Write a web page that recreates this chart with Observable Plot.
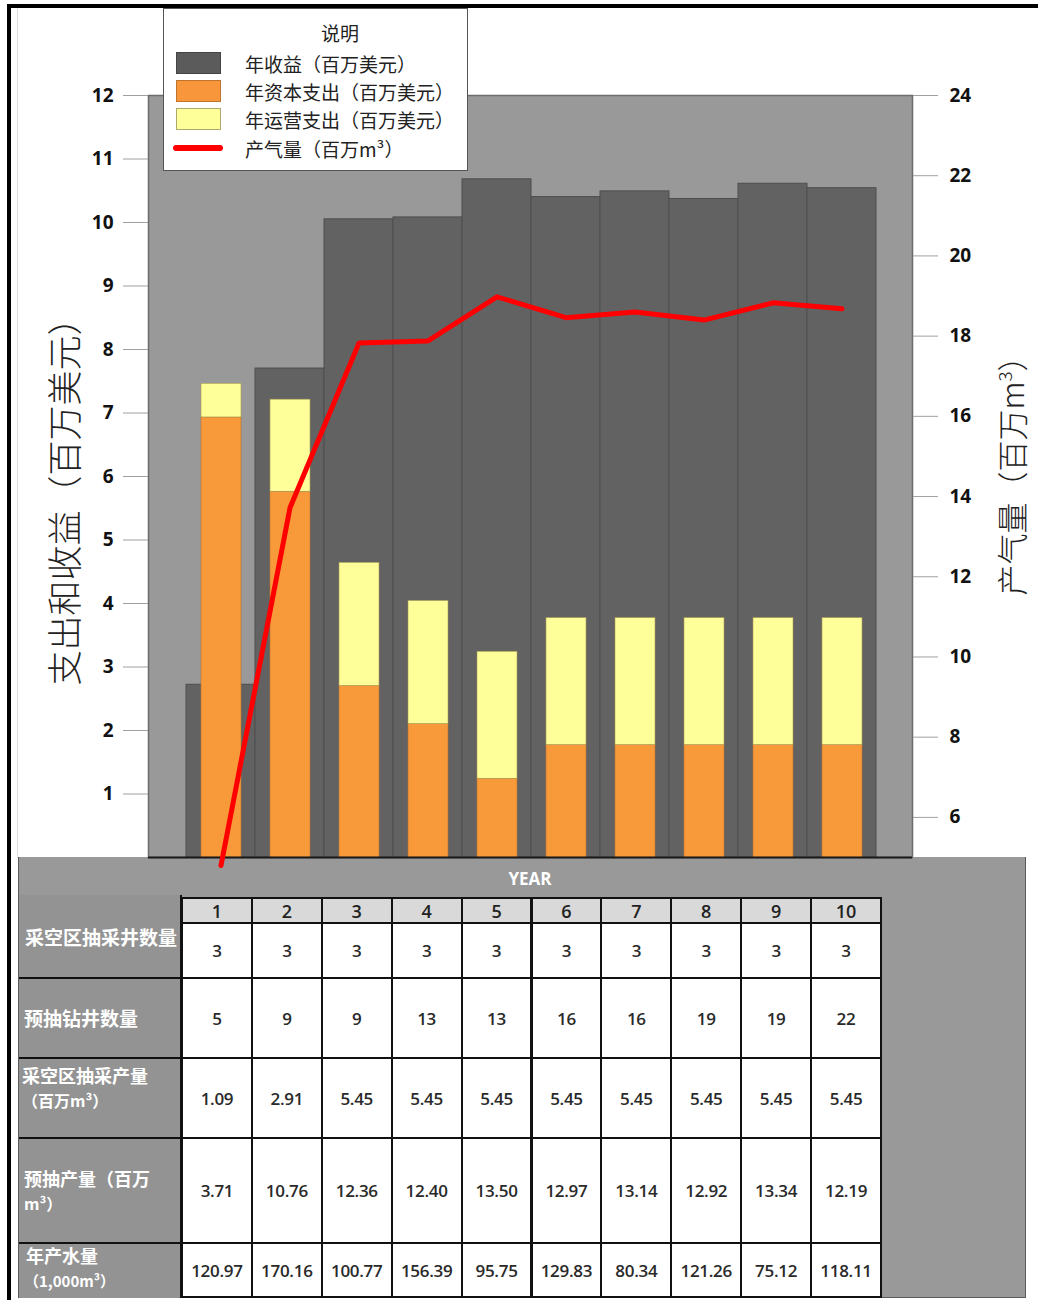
<!DOCTYPE html>
<html>
<head>
<meta charset="utf-8">
<script src="https://cdn.jsdelivr.net/npm/d3@7"></script>
<script src="https://cdn.jsdelivr.net/npm/@observablehq/plot@0.6"></script>
<style>
  html, body { margin: 0; padding: 0; background: #fff; }
  #root { position: relative; width: 1038px; height: 1300px; overflow: hidden; font-family: "Noto Sans CJK SC", "Noto Sans", sans-serif; }
  .abs { position: absolute; box-sizing: border-box; }
  .num { font-family: "Open Sans", Lato, sans-serif; }
</style>
</head>
<body>
<div id="root"></div>
<script>
// ---------- data ----------
const years = [1, 2, 3, 4, 5, 6, 7, 8, 9, 10];
const revenue = [2.72, 7.70, 10.05, 10.08, 10.68, 10.40, 10.49, 10.37, 10.61, 10.54];
const capex = [6.93, 5.76, 2.70, 2.10, 1.24, 1.77, 1.77, 1.77, 1.77, 1.77];
const opex = [0.53, 1.45, 1.94, 1.94, 2.00, 2.00, 2.00, 2.00, 2.00, 2.00];
const gas = [4.80, 13.72, 17.83, 17.88, 18.98, 18.46, 18.60, 18.40, 18.83, 18.68];
const leftTicks = [1, 2, 3, 4, 5, 6, 7, 8, 9, 10, 11, 12];
const rightTicks = [6, 8, 10, 12, 14, 16, 18, 20, 22, 24];
const leftDomain = [0, 12];
const rightDomain = [5, 24];

const legendTitle = "说明";
const legendItems = ["年收益（百万美元）", "年资本支出（百万美元）", "年运营支出（百万美元）", "产气量（百万m³）"];
const leftLabel = "支出和收益（百万美元）";
const rightLabel = "产气量（百万m<sup style='font-size:0.6em'>3</sup>）";

const tableHeader = "YEAR";
const rowLabels = [
  ["采空区抽采井数量"],
  ["预抽钻井数量"],
  ["采空区抽采产量", "（百万m³）"],
  ["预抽产量（百万", "m³）"],
  ["年产水量", "（1,000m³）"]
];
const goafWells = ["3", "3", "3", "3", "3", "3", "3", "3", "3", "3"];
const preWells = ["5", "9", "9", "13", "13", "16", "16", "19", "19", "22"];
const goafProd = ["1.09", "2.91", "5.45", "5.45", "5.45", "5.45", "5.45", "5.45", "5.45", "5.45"];
const preProd = ["3.71", "10.76", "12.36", "12.40", "13.50", "12.97", "13.14", "12.92", "13.34", "12.19"];
const water = ["120.97", "170.16", "100.77", "156.39", "95.75", "129.83", "80.34", "121.26", "75.12", "118.11"];
const tableRows = [goafWells, preWells, goafProd, preProd, water];

// ---------- helpers ----------
const root = document.getElementById("root");
function el(tag, css, html) {
  const e = document.createElement(tag);
  e.className = "abs";
  e.style.cssText = css;
  if (html != null) e.innerHTML = html;
  root.appendChild(e);
  return e;
}

// map right-axis values into left-axis units
const toLeft = v => (v - rightDomain[0]) * (leftDomain[1] - leftDomain[0]) / (rightDomain[1] - rightDomain[0]);
const fromLeft = u => u * (rightDomain[1] - rightDomain[0]) / (leftDomain[1] - leftDomain[0]) + rightDomain[0];

const data = years.map((y, i) => ({year: y, revenue: revenue[i], capex: capex[i], opex: opex[i], gas: gas[i]}));

// ---------- frame lines ----------
el("div", "left:7px;top:4px;width:4px;height:1296px;background:#000;");
el("div", "left:7px;top:4px;width:1031px;height:4px;background:#000;");
el("div", "left:17px;top:8px;width:1px;height:850px;background:#ddd;");

// ---------- table background (under the chart so the line can overlap it) ----------
el("div", "left:18px;top:857px;width:1008px;height:441px;background:#999999;border:1px solid #5a5a5a;border-top:none;");

// ---------- chart ----------
const chart = Plot.plot({
  width: 1038,
  height: 870,
  marginTop: 95,
  marginBottom: 13,
  marginLeft: 148,
  marginRight: 126,
  style: {fontFamily: "'Open Sans', Lato, sans-serif", background: "transparent", overflow: "visible"},
  x: {type: "band", domain: years, padding: 0, insetLeft: 35, insetRight: 34, axis: null},
  y: {domain: leftDomain, axis: null},
  marks: [
    Plot.frame({fill: "#999999", stroke: "#6b6b6b", strokeWidth: 1.5}),
    Plot.barY(data, {x: "year", y: "revenue", fill: "#626262", stroke: "#4e4e4e", strokeWidth: 1}),
    Plot.barY(data, {x: "year", y1: 0, y2: "capex", fill: "#f99a3a", stroke: "#b9732c", strokeWidth: 0.6, insetLeft: 15, insetRight: 14}),
    Plot.barY(data, {x: "year", y1: "capex", y2: d => d.capex + d.opex, fill: "#ffff99", stroke: "#a89a55", strokeWidth: 0.6, insetLeft: 15, insetRight: 14}),
    Plot.ruleY([0], {stroke: "#1a1a1a", strokeWidth: 2}),
    Plot.line(data, {x: "year", y: d => toLeft(d.gas), stroke: "#ff0000", strokeWidth: 5, strokeLinecap: "round"}),
    Plot.axisY({anchor: "left", ticks: leftTicks, tickSize: 25, tickPadding: 10, fontSize: 19, fontWeight: "bold", stroke: "#a0a0a0", fill: "#111", label: null}),
    Plot.axisY({anchor: "right", ticks: rightTicks.map(toLeft), tickFormat: d => String(Math.round(fromLeft(d))), tickSize: 25, tickPadding: 12, fontSize: 19, fontWeight: "bold", stroke: "#a0a0a0", fill: "#111", label: null})
  ]
});
chart.style.position = "absolute";
chart.style.left = "0px";
chart.style.top = "0px";
root.appendChild(chart);

// ---------- axis titles ----------
el("div", "left:62px;top:493px;white-space:nowrap;font-size:35px;color:#222;font-weight:300;transform:translate(-50%,-50%) rotate(-90deg);", leftLabel);
el("div", "left:1010px;top:468px;white-space:nowrap;font-size:31px;color:#222;font-weight:300;transform:translate(-50%,-50%) rotate(-90deg);", rightLabel);

// ---------- legend ----------
el("div", "left:163px;top:8px;width:305px;height:163px;background:#fff;border:1.5px solid #555;");
el("div", "left:340px;top:32px;font-size:19px;color:#222;transform:translate(-50%,-50%);white-space:nowrap;", legendTitle);
const swatchCss = [
  "background:#5b5b5b;border:1px solid #444;",
  "background:#f7963b;border:1px solid #c0742e;",
  "background:#ffff99;border:1px solid #b0a870;"
];
const legendY = [63, 91, 119, 148];
swatchCss.forEach((c, i) => el("div", `left:176px;top:${legendY[i] - 11}px;width:45px;height:22px;${c}`));
el("div", `left:173px;top:${legendY[3] - 3}px;width:50px;height:6px;border-radius:3px;background:#ff0000;`);
legendItems.forEach((t, i) => el("div", `left:245px;top:${legendY[i]}px;font-size:19px;color:#222;transform:translateY(-50%);white-space:nowrap;line-height:1;`, t));

// ---------- table ----------
el("div", "left:530px;top:878px;font-size:17px;font-weight:bold;color:#fff;transform:translate(-50%,-50%);font-family:'Open Sans',Lato,sans-serif;", tableHeader);

const colX0 = 181, colW = 69.9;
const headTop = 897, headH = 25;
const rowH = [55, 80, 80, 105, 54];
const rowTop = [];
{ let y = headTop + headH; rowH.forEach(h => { rowTop.push(y); y += h; }); }

// header row
years.forEach((yr, j) => {
  el("div", `left:${colX0 + j * colW}px;top:${headTop}px;width:${colW + 2}px;height:${headH + 2}px;background:#d9d9d9;border:2px solid #111;display:flex;align-items:center;justify-content:center;font-size:18px;font-weight:600;color:#222;`, `<span class="num">${yr}</span>`);
});
// data cells
tableRows.forEach((row, r) => {
  row.forEach((v, j) => {
    el("div", `left:${colX0 + j * colW}px;top:${rowTop[r]}px;width:${colW + 2}px;height:${rowH[r] + 2}px;background:#fff;border:2px solid #111;display:flex;align-items:center;justify-content:center;font-size:17px;font-weight:600;color:#2a2a2a;letter-spacing:-0.3px;`, `<span class="num">${v}</span>`);
  });
});
// label column
const labelTops = [headTop - 2, rowTop[1], rowTop[2], rowTop[3], rowTop[4]];
const labelBots = [rowTop[1], rowTop[2], rowTop[3], rowTop[4], rowTop[4] + rowH[4]];
rowLabels.forEach((lines, r) => {
  const top = labelTops[r], h = labelBots[r] - labelTops[r];
  el("div", `left:19px;top:${top}px;width:163px;height:${h + 2}px;background:#939393;border-top:${r === 0 ? "none" : "2px solid #111"};border-right:2px solid #111;`);
});
const labelPos = [
  [[25, 936, 19]],
  [[24, 1017, 19]],
  [[22, 1075, 18], [22, 1100, 16]],
  [[24, 1178, 18], [24, 1203, 16]],
  [[26, 1255, 18], [24, 1280, 15]]
];
rowLabels.forEach((lines, r) => {
  lines.forEach((t, k) => {
    const [x, y, fs] = labelPos[r][k];
    el("div", `left:${x}px;top:${y}px;font-size:${fs}px;font-weight:bold;color:#fff;transform:translateY(-50%);white-space:nowrap;line-height:1;`, t);
  });
});
</script>
</body>
</html>
